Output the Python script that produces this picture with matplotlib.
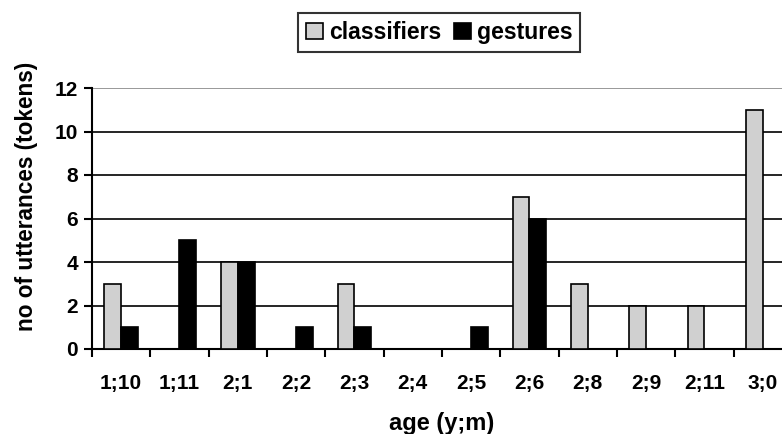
import numpy as np
import matplotlib.pyplot as plt
from matplotlib.ticker import FixedLocator

plt.rcParams['font.family'] = ['Liberation Sans', 'DejaVu Sans']
plt.rcParams['font.weight'] = 'bold'

ages = ['1;10', '1;11', '2;1', '2;2', '2;3', '2;4', '2;5', '2;6', '2;8', '2;9', '2;11', '3;0']
classifiers = [3, 0, 4, 0, 3, 0, 0, 7, 3, 2, 2, 11]
gestures = [1, 5, 4, 1, 1, 0, 1, 6, 0, 0, 0, 0]

fig = plt.figure(figsize=(7.82, 4.34), dpi=100)
# axes runs past the right edge, like the cropped original
ax = fig.add_axes([92/782, 85/434, 700/782, 261/434])

x = np.arange(len(ages))
w = 0.29
ax.bar(x - w/2, classifiers, w, color='#d0d0d0', edgecolor='black', linewidth=1.2, label='classifiers', zorder=3)
ax.bar(x + w/2, [g if g > 0 else np.nan for g in gestures], w, color='black', edgecolor='black', linewidth=1.2, label='gestures', zorder=3)

ax.set_xlim(-0.5, len(ages) - 0.5)
ax.set_ylim(0, 12)
ax.set_yticks(range(0, 13, 2))
ax.set_xticks(x)
ax.set_xticklabels(ages)
ax.xaxis.set_minor_locator(FixedLocator(np.arange(-0.5, len(ages), 1)))
ax.tick_params(axis='x', which='major', length=0, pad=18, labelsize=15)
ax.tick_params(axis='x', which='minor', length=6, width=1.5, direction='out')
ax.tick_params(axis='y', length=6, width=1.5, labelsize=15, pad=4)

for yv in range(2, 13, 2):
    ax.axhline(yv, color='black' if yv < 12 else '#888888', linewidth=1.2, zorder=1)

ax.spines['top'].set_visible(False)
ax.spines['right'].set_visible(False)
ax.spines['left'].set_linewidth(1.5)
ax.spines['bottom'].set_linewidth(1.5)

ax.set_ylabel('no of utterances (tokens)', fontsize=16.3, fontweight='bold')
ax.yaxis.set_label_coords(-0.077, 0.586)
ax.set_xlabel('age (y;m)', fontsize=17, fontweight='bold', labelpad=14)

leg = fig.legend(loc='center', bbox_to_anchor=(439/782, 1 - 32.5/434), ncol=2, frameon=True,
                 fancybox=False, edgecolor='black', fontsize=16.6, handlelength=0.75,
                 handleheight=0.75, handletextpad=0.25, columnspacing=0.55, borderpad=0.35,
                 borderaxespad=0)
leg.get_frame().set_linewidth(1.5)

fig.savefig('out.png', dpi=100)
